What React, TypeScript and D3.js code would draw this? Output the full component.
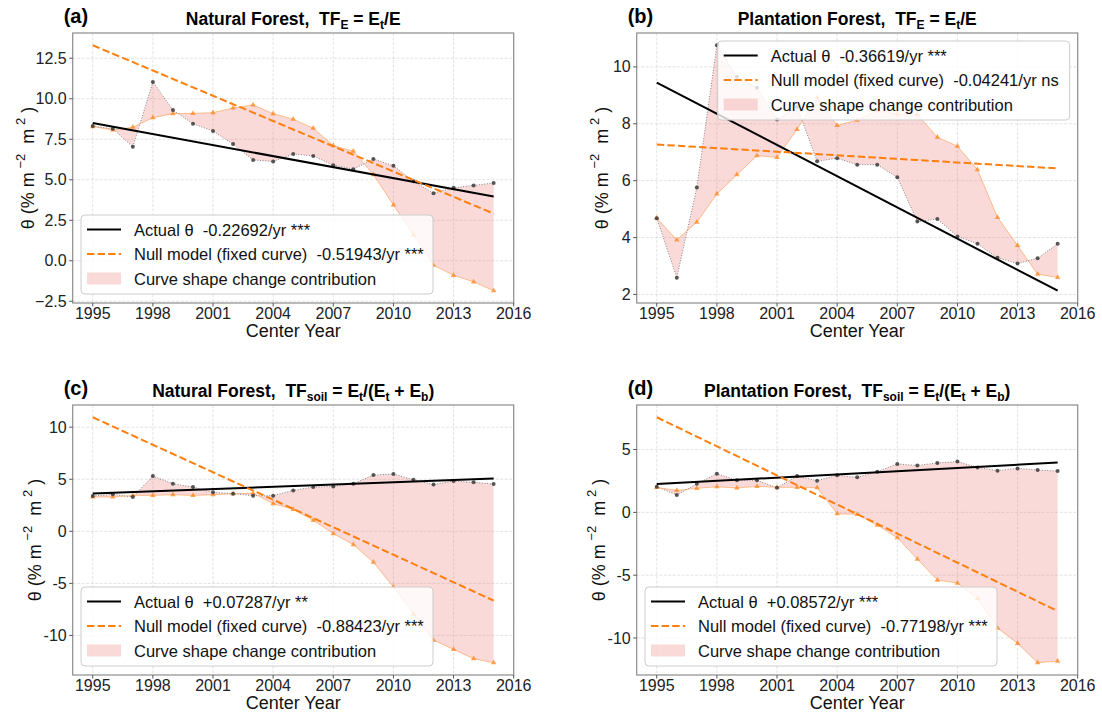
import React from 'react';
import * as d3 from 'd3';

const FONT = "'Liberation Sans', Arial, Helvetica, sans-serif";
const W = 1102;
const H = 715;

const years = [1995, 1996, 1997, 1998, 1999, 2000, 2001, 2002, 2003, 2004, 2005, 2006, 2007, 2008, 2009, 2010, 2011, 2012, 2013, 2014, 2015];
const xTicks = [1995, 1998, 2001, 2004, 2007, 2010, 2013, 2016];

// (a) Natural forest, TF_E
const natEActual = [8.32, 8.14, 7.03, 11.04, 9.31, 8.45, 8.01, 7.2, 6.22, 6.13, 6.59, 6.47, 5.9, 5.65, 6.28, 5.86, 4.9, 4.17, 4.5, 4.65, 4.8];
const natENull = [8.28, 8.07, 8.24, 8.83, 9.08, 9.1, 9.14, 9.43, 9.62, 9.08, 8.74, 8.18, 7.11, 6.76, 5.32, 3.44, 1.6, -0.28, -0.9, -1.3, -1.85];
const natETrendActual = [8.5, 3.96];
const natETrendNull = [13.3, 2.91];
const natEYTicks = [-2.5, 0, 2.5, 5, 7.5, 10, 12.5];

// (b) Plantation forest, TF_E
const plaEActual = [4.68, 2.59, 5.76, 10.76, 9.65, 9.27, 8.15, 8.6, 6.68, 6.79, 6.56, 6.56, 6.12, 4.56, 4.65, 4.04, 3.78, 3.29, 3.09, 3.27, 3.78];
const plaENull = [4.68, 3.92, 4.54, 5.53, 6.21, 6.88, 6.82, 7.8, 8.92, 7.94, 8.13, 8.47, 8.35, 8.33, 7.53, 7.21, 6.39, 4.71, 3.72, 2.71, 2.6];
const plaETrendActual = [9.45, 2.13];
const plaETrendNull = [7.27, 6.43];
const plaEYTicks = [2, 4, 6, 8, 10];

// (c) Natural forest, TF_soil
const natSActual = [3.39, 3.55, 3.29, 5.3, 4.57, 4.25, 3.74, 3.61, 3.42, 3.42, 3.93, 4.25, 4.31, 4.57, 5.4, 5.5, 4.95, 4.5, 4.82, 4.7, 4.54];
const natSNull = [3.29, 3.29, 3.45, 3.45, 3.51, 3.45, 3.51, 3.61, 3.67, 2.65, 2.11, 1.05, -0.22, -1.28, -2.97, -5.34, -7.96, -10.45, -11.34, -12.24, -12.62];
const natSTrendActual = [3.62, 5.08];
const natSTrendNull = [10.95, -6.65];
const natSYTicks = [-10, -5, 0, 5, 10];

// (d) Plantation forest, TF_soil
const plaSActual = [2.04, 1.38, 2.28, 3.08, 2.55, 2.55, 1.96, 2.89, 2.52, 2.95, 2.79, 3.24, 3.85, 3.74, 3.93, 4.04, 3.58, 3.32, 3.5, 3.37, 3.29];
const plaSNull = [1.99, 1.75, 1.91, 2.04, 1.94, 2.07, 1.99, 1.99, 1.96, -0.11, -0.16, -1.01, -2.02, -3.72, -5.39, -5.63, -6.85, -9.21, -10.43, -11.97, -11.84];
const plaSTrendActual = [2.25, 3.96];
const plaSTrendNull = [7.57, -7.86];
const plaSYTicks = [-10, -5, 0, 5];

const tags = ['(a)', '(b)', '(c)', '(d)'];
const forests = ['Natural Forest,', 'Plantation Forest,', 'Natural Forest,', 'Plantation Forest,'];
const kinds = ['E', 'E', 'soil', 'soil'];
const actualSlopes = ['-0.22692', '-0.36619', '+0.07287', '+0.08572'];
const actualSig = ['***', '***', '**', '***'];
const nullSlopes = ['-0.51943', '-0.04241', '-0.88423', '-0.77198'];
const nullSig = ['***', 'ns', '***', '***'];
const legendLabel3 = 'Curve shape change contribution';

const ORANGE = '#ff7f0e';
const FILL = '#f08080';

type Spec = {
  idx: number;
  actual: number[];
  nul: number[];
  trendA: number[];
  trendN: number[];
  yTicks: number[];
  yFmt: (v: number) => string;
  left: number;
  top: number;
  ylabelX: number;
  legendLoc: 'll' | 'ur';
};

const PW = 441;
const PH = 270;

function Title({ kind, forest, cx, y }: { kind: string; forest: string; cx: number; y: number }) {
  const sub = 4;
  const subSize = 12;
  const parts: React.ReactNode[] = [];
  parts.push(<tspan key="f" style={{ whiteSpace: 'pre' }}>{forest + '  TF'}</tspan>);
  if (kind === 'E') {
    parts.push(<tspan key="s1" dy={sub} fontSize={subSize}>E</tspan>);
    parts.push(<tspan key="r1" dy={-sub}>{' = E'}</tspan>);
    parts.push(<tspan key="s2" dy={sub} fontSize={subSize}>t</tspan>);
    parts.push(<tspan key="r2" dy={-sub}>/E</tspan>);
  } else {
    parts.push(<tspan key="s1" dy={sub} fontSize={subSize}>soil</tspan>);
    parts.push(<tspan key="r1" dy={-sub}>{' = E'}</tspan>);
    parts.push(<tspan key="s2" dy={sub} fontSize={subSize}>t</tspan>);
    parts.push(<tspan key="r2" dy={-sub}>/(E</tspan>);
    parts.push(<tspan key="s3" dy={sub} fontSize={subSize}>t</tspan>);
    parts.push(<tspan key="r3" dy={-sub}>{' + E'}</tspan>);
    parts.push(<tspan key="s4" dy={sub} fontSize={subSize}>b</tspan>);
    parts.push(<tspan key="r4" dy={-sub}>)</tspan>);
  }
  return (
    <text x={cx} y={y} textAnchor="middle" fontWeight="bold" fontSize={17.5} fill="#000" style={{ whiteSpace: 'pre' }}>
      {parts}
    </text>
  );
}

function Panel({ s }: { s: Spec }) {
  const left = s.left;
  const right = left + PW;
  const top = s.top;
  const bottom = top + PH;
  const [x0, x1] = d3.extent(years) as [number, number];
  const xp = (x1 - x0) * 0.05;
  const x = d3.scaleLinear().domain([x0 - xp, x1 + xp]).range([left, right]);
  const all = [...s.actual, ...s.nul, ...s.trendA, ...s.trendN];
  const [mn, mx] = d3.extent(all) as [number, number];
  const yp = (mx - mn) * 0.05;
  const y = d3.scaleLinear().domain([mn - yp, mx + yp]).range([bottom, top]);

  const area = d3
    .area<number>()
    .x((_, i) => x(years[i]))
    .y0((_, i) => y(s.nul[i]))
    .y1((d) => y(d));
  const line = d3
    .line<number>()
    .x((_, i) => x(years[i]))
    .y((d) => y(d));
  const trendYears = [years[0], years[years.length - 1]];
  const tline = d3
    .line<number>()
    .x((_, i) => x(trendYears[i]))
    .y((d) => y(d));
  const tri = d3.symbol().type(d3.symbolTriangle).size(13)() as string;

  const lw = 352;
  const lh = 79;
  const lx = s.legendLoc === 'll' ? left + 8.3 : right - 8 - lw;
  const ly = s.legendLoc === 'll' ? bottom - 9 - lh : top + 8;
  const rows = [ly + 14.5, ly + 39, ly + 63.5];
  const i = s.idx;
  const cy = (top + bottom) / 2;

  return (
    <g>
      {/* grid */}
      {xTicks.map((t) => (
        <line key={'gx' + t} x1={x(t)} x2={x(t)} y1={top} y2={bottom} stroke="#b0b0b0" strokeOpacity={0.45} strokeWidth={0.8} strokeDasharray="3,1.5" />
      ))}
      {s.yTicks.map((t) => (
        <line key={'gy' + t} x1={left} x2={right} y1={y(t)} y2={y(t)} stroke="#b0b0b0" strokeOpacity={0.45} strokeWidth={0.8} strokeDasharray="3,1.5" />
      ))}
      {/* fill */}
      <path d={area(s.actual) as string} fill={FILL} fillOpacity={0.3} stroke="none" />
      {/* null curve */}
      <path d={line(s.nul) as string} fill="none" stroke={ORANGE} strokeOpacity={0.55} strokeWidth={0.8} />
      {s.nul.map((v, k) => (
        <path key={'tn' + k} d={tri} transform={`translate(${x(years[k])},${y(v)})`} fill={ORANGE} fillOpacity={0.7} />
      ))}
      {/* actual curve */}
      <path d={line(s.actual) as string} fill="none" stroke="#555" strokeOpacity={0.7} strokeWidth={1} strokeDasharray="1,1.65" />
      {s.actual.map((v, k) => (
        <circle key={'ca' + k} cx={x(years[k])} cy={y(v)} r={2} fill="#3a3a3a" fillOpacity={0.85} />
      ))}
      {/* trend lines */}
      <path d={tline(s.trendA) as string} fill="none" stroke="#000" strokeWidth={2} />
      <path d={tline(s.trendN) as string} fill="none" stroke={ORANGE} strokeWidth={2} strokeDasharray="7.4,3.2" />
      {/* frame */}
      <rect x={left} y={top} width={PW} height={PH} fill="none" stroke="#8c8c8c" strokeWidth={1.2} />
      {/* x ticks */}
      {xTicks.map((t) => (
        <g key={'xt' + t}>
          <line x1={x(t)} x2={x(t)} y1={bottom} y2={bottom + 3.5} stroke="#555" strokeWidth={1} />
          <text x={x(t)} y={bottom + 16} textAnchor="middle" fontSize={16} fill="#222">{t}</text>
        </g>
      ))}
      {s.yTicks.map((t) => (
        <g key={'yt' + t}>
          <line x1={left - 3.5} x2={left} y1={y(t)} y2={y(t)} stroke="#555" strokeWidth={1} />
          <text x={left - 6} y={y(t) + 5.6} textAnchor="end" fontSize={16} fill="#222">{s.yFmt(t)}</text>
        </g>
      ))}
      {/* axis labels */}
      <text x={(left + right) / 2} y={bottom + 34} textAnchor="middle" fontSize={18} fill="#111">Center Year</text>
      <text transform={`translate(${s.ylabelX},${cy}) rotate(-90)`} textAnchor="middle" fontSize={18} fill="#111" style={{ whiteSpace: 'pre' }}>
        <tspan>θ (% m</tspan>
        <tspan dy={-9} fontSize={13}>{' −2'}</tspan>
        <tspan dy={9}>{'  m'}</tspan>
        <tspan dy={-9} fontSize={13}>{' 2'}</tspan>
        <tspan dy={9}>{' )'}</tspan>
      </text>
      {/* titles */}
      <Title kind={kinds[i]} forest={forests[i]} cx={(left + right) / 2} y={top - 8} />
      <text x={left - 9} y={top - 10} fontSize={20} fontWeight="bold" fill="#000">{tags[i]}</text>
      {/* legend */}
      <g>
        <rect x={lx} y={ly} width={lw} height={lh} rx={4} fill="#fff" fillOpacity={0.8} stroke="#cccccc" strokeWidth={1} />
        <line x1={lx + 6} x2={lx + 40} y1={rows[0]} y2={rows[0]} stroke="#000" strokeWidth={2} />
        <line x1={lx + 6} x2={lx + 40} y1={rows[1]} y2={rows[1]} stroke={ORANGE} strokeWidth={2} strokeDasharray="7.4,3.2" />
        <rect x={lx + 6} y={rows[2] - 6} width={34} height={12} fill={FILL} fillOpacity={0.3} />
        <text x={lx + 53} y={rows[0] + 6} fontSize={16.5} fill="#111" style={{ whiteSpace: 'pre' }}>{`Actual θ  ${actualSlopes[i]}/yr ${actualSig[i]}`}</text>
        <text x={lx + 53} y={rows[1] + 6} fontSize={16.5} fill="#111" style={{ whiteSpace: 'pre' }}>{`Null model (fixed curve)  ${nullSlopes[i]}/yr ${nullSig[i]}`}</text>
        <text x={lx + 53} y={rows[2] + 6} fontSize={16.5} fill="#111">{legendLabel3}</text>
      </g>
    </g>
  );
}

const fmt1 = d3.format('.1f');
const fmt0 = (v: number) => String(v);

const specs: Spec[] = [
  { idx: 0, actual: natEActual, nul: natENull, trendA: natETrendActual, trendN: natETrendNull, yTicks: natEYTicks, yFmt: fmt1, left: 72.7, top: 33, ylabelX: 34, legendLoc: 'll' },
  { idx: 1, actual: plaEActual, nul: plaENull, trendA: plaETrendActual, trendN: plaETrendNull, yTicks: plaEYTicks, yFmt: fmt0, left: 636.7, top: 33, ylabelX: 608, legendLoc: 'ur' },
  { idx: 2, actual: natSActual, nul: natSNull, trendA: natSTrendActual, trendN: natSTrendNull, yTicks: natSYTicks, yFmt: fmt0, left: 72.7, top: 405, ylabelX: 41, legendLoc: 'll' },
  { idx: 3, actual: plaSActual, nul: plaSNull, trendA: plaSTrendActual, trendN: plaSTrendNull, yTicks: plaSYTicks, yFmt: fmt0, left: 636.7, top: 405, ylabelX: 605, legendLoc: 'll' },
];

export default function App() {
  return (
    <svg
      width={W}
      height={H}
      viewBox={`0 0 ${W} ${H}`}
      style={{ position: 'absolute', left: 0, top: 0, display: 'block', background: '#fff', fontFamily: FONT }}
    >
      <rect x={0} y={0} width={W} height={H} fill="#fff" />
      {specs.map((s) => (
        <Panel key={s.idx} s={s} />
      ))}
    </svg>
  );
}
